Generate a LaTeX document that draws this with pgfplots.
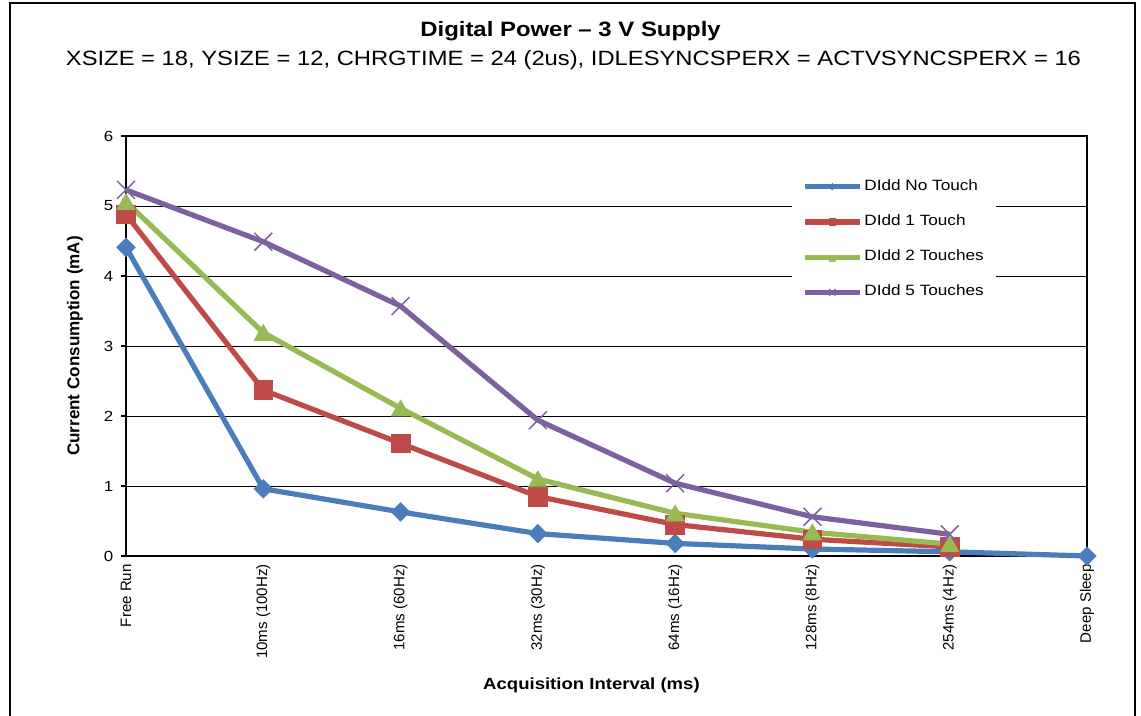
\documentclass[border=0pt]{standalone}
\usepackage{fontspec}
\setmainfont{Liberation Sans}[FakeStretch=1.15]
\newfontfamily\plainfont{Liberation Sans}
\usepackage{pgfplots}
\pgfplotsset{compat=1.18}
\definecolor{cblue}{HTML}{4A7EBB}
\definecolor{cred}{HTML}{BE4B48}
\definecolor{cgreen}{HTML}{98B954}
\definecolor{cpurple}{HTML}{7D60A0}
\begin{document}
\begin{tikzpicture}
\useasboundingbox (0,0) rectangle (855.75pt,536.25pt);
\begin{scope}
\clip (0,0) rectangle (855.75pt,536.25pt);
\draw[line width=1.5pt] (7.5pt,-2pt) -- (7.5pt,534pt) -- (851.25pt,534pt) -- (851.25pt,-2pt);
\end{scope}
\node[anchor=base, inner sep=0pt, font=\bfseries\fontsize{15.6}{18}\selectfont] at (427.9pt,508.7pt) {Digital Power – 3 V Supply};
\node[anchor=base, inner sep=0pt, font=\fontsize{15.5}{18}\selectfont] at (430.1pt,487pt) {XSIZE = 18, YSIZE = 12, CHRGTIME = 24 (2us), IDLESYNCSPERX = ACTVSYNCSPERX = 16};
\node[anchor=base, inner sep=0pt, font=\bfseries\fontsize{12.1}{14}\selectfont] at (443.6pt,19.5pt) {Acquisition Interval (ms)};
\node[rotate=90, inner sep=0pt, font=\plainfont\bfseries\fontsize{12.8}{15}\selectfont] at (56.25pt,276.75pt) {Current Consumption (mA)};
\begin{axis}[
  at={(94.5pt,119.25pt)}, anchor=south west,
  width=720.75pt, height=315pt, scale only axis,
  xmin=0, xmax=7, ymin=0, ymax=6,
  xtick={0,1,2,3,4,5,6,7},
  xticklabels={Free Run,10ms (100Hz),16ms (60Hz),32ms (30Hz),64ms (16Hz),128ms (8Hz),254ms (4Hz),Deep Sleep},
  xticklabel style={rotate=90, anchor=east, inner sep=2pt, font=\plainfont\fontsize{11.3}{13}\selectfont},
  ytick={0,1,2,3,4,5,6}, ytick pos=left,
  yticklabel style={font=\fontsize{11}{12}\selectfont, xshift=-2pt},
  /pgf/number format/assume math mode=true,
  x tick style={draw=none},
  major tick length=4pt, tick align=outside,
  y tick style={black, line width=1pt},
  ymajorgrids, grid style={black, line width=0.75pt},
  axis line style={line width=1.5pt},
  clip=false,
  legend cell align=left,
  legend image code/.code={\draw[mark repeat=2,mark phase=2,#1] plot coordinates {(0pt,0pt) (20.6pt,0pt) (41.25pt,0pt)};},
  legend image post style={every mark/.append style={scale=0.35}},
  legend style={at={(rel axis cs:0.693,0.914)}, anchor=north west, draw=none, fill=white,
    inner xsep=7.5pt, inner ysep=4pt, row sep=12.9pt,
    font=\fontsize{11.2}{13}\selectfont,
    nodes={inner sep=1.5pt, text height=8pt, text depth=2.5pt}},
]
\addplot[cblue, line width=3.9pt, mark=square*, mark options={solid, rotate=45, line width=0.5pt, fill=cblue}, mark size=4.9pt]
  coordinates {(0,4.41) (1,0.96) (2,0.63) (3,0.32) (4,0.18) (5,0.10) (6,0.06) (7,0.0)};
\addlegendentry{DIdd No Touch}
\addplot[cred, line width=3.9pt, mark=square*, mark options={solid, line width=0.5pt, fill=cred}, mark size=7pt]
  coordinates {(0,4.88) (1,2.37) (2,1.61) (3,0.85) (4,0.45) (5,0.24) (6,0.13)};
\addlegendentry{DIdd 1 Touch}
\addplot[cgreen, line width=3.9pt, mark=triangle*, mark options={solid, yshift=-1.8pt, line width=0.5pt, fill=cgreen}, mark size=8pt]
  coordinates {(0,5.06) (1,3.19) (2,2.11) (3,1.10) (4,0.61) (5,0.34) (6,0.17)};
\addlegendentry{DIdd 2 Touches}
\addplot[cpurple, line width=3.9pt, mark=x, mark options={solid, line width=1.1pt}, mark size=9.5pt]
  coordinates {(0,5.23) (1,4.49) (2,3.57) (3,1.94) (4,1.04) (5,0.56) (6,0.31)};
\addlegendentry{DIdd 5 Touches}
\end{axis}
\end{tikzpicture}
\end{document}
